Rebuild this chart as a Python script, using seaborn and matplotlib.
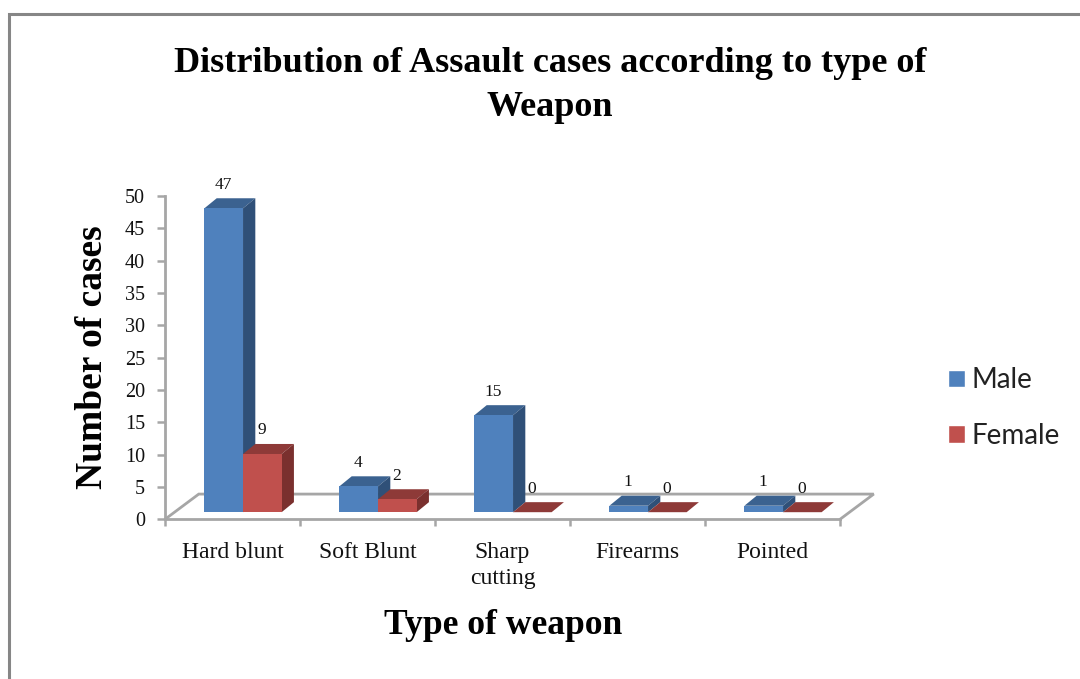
import matplotlib
matplotlib.use("Agg")
import matplotlib.pyplot as plt
from matplotlib.lines import Line2D
from matplotlib.patches import Patch, Polygon
import pandas as pd
import seaborn as sns

weapons = ["Hard blunt", "Soft Blunt", "Sharp\ncutting", "Firearms", "Pointed"]
male = [47, 4, 15, 1, 1]
female = [9, 2, 0, 0, 0]
y_ticks = [0, 5, 10, 15, 20, 25, 30, 35, 40, 45, 50]

front_colors = {"Male": "#4F81BD", "Female": "#C0504D"}
top_colors = {"Male": "#3B6290", "Female": "#8E3A38"}
side_colors = {"Male": "#2F5078", "Female": "#7A302E"}

W, H = 1080, 679

sns.set_style("white")
plt.rcParams["font.family"] = ["Liberation Serif", "DejaVu Serif"]

df = pd.DataFrame({
    "weapon": weapons * 2,
    "sex": ["Male"] * 5 + ["Female"] * 5,
    "cases": male + female,
})

fig = plt.figure(figsize=(W / 100, H / 100), dpi=100, facecolor="white")
ax = fig.add_axes([165 / W, 1 - 519.3 / H, 675 / W, 323.3 / H])
ax.patch.set_alpha(0)

sns.barplot(data=df, x="weapon", y="cases", hue="sex", order=weapons,
            hue_order=["Male", "Female"], palette=front_colors, width=0.572,
            saturation=1, linewidth=0, legend=False, ax=ax, zorder=5)

ax.set_xlim(-0.5, 4.5)
ax.set_ylim(0, 50)

# fake 3d: bars sit on the floor, with a top and a side face
shift_x = 0.078
lift_y = 1.1
depth_x = 0.091
depth_y = 1.55

for sex, container, layer in zip(["Male", "Female"], ax.containers, [3, 4]):
    for bar in container:
        bar.set_x(bar.get_x() + shift_x)
        bar.set_y(lift_y)
        x0 = bar.get_x()
        x1 = x0 + bar.get_width()
        y0 = lift_y
        y1 = lift_y + bar.get_height()
        ax.add_patch(Polygon([(x0, y1), (x1, y1), (x1 + depth_x, y1 + depth_y), (x0 + depth_x, y1 + depth_y)],
                             facecolor=top_colors[sex], linewidth=0, zorder=layer, clip_on=False))
        ax.add_patch(Polygon([(x1, y0), (x1, y1), (x1 + depth_x, y1 + depth_y), (x1 + depth_x, y0 + depth_y)],
                             facecolor=side_colors[sex], linewidth=0, zorder=layer, clip_on=False))
        ax.annotate(f"{int(bar.get_height())}", ((x0 + x1) / 2, y1), xytext=(-0.5, 17),
                    textcoords="offset points", ha="center", va="center",
                    fontsize=12.5, color="#111111", annotation_clip=False, zorder=6)

# floor of the 3d box
grey = "#A6A6A6"
floor_x = 0.25
floor_y = 3.9
ax.plot([-0.5, -0.5 + floor_x, 4.5 + floor_x, 4.5], [0, floor_y, floor_y, 0],
        color=grey, lw=2, clip_on=False, zorder=1, solid_joinstyle="miter")

sns.despine(ax=ax)
for side in ["left", "bottom"]:
    ax.spines[side].set_color(grey)
    ax.spines[side].set_linewidth(2)

ax.set_yticks(y_ticks)
ax.tick_params(axis="y", left=True, length=5.8, width=1.8, color=grey, pad=8.5,
               labelsize=14.5, labelcolor="#111111")
ax.set_xticks([i - 0.5 for i in range(6)], minor=True)
ax.tick_params(axis="x", which="minor", bottom=True, length=5, width=1.8, color=grey)
ax.tick_params(axis="x", which="major", bottom=False, pad=12.5, labelsize=17, labelcolor="#111111")
for label in ax.get_xticklabels():
    label.set_linespacing(1.32)
    label.set_verticalalignment("top")

ax.set_xlabel("")
ax.set_ylabel("")

fig.text(550 / W, 1 - 63 / H, "Distribution of Assault cases according to type of",
         ha="center", va="center", fontsize=26, fontweight="bold", color="black")
fig.text(550 / W, 1 - 107.5 / H, "Weapon", ha="center", va="center", fontsize=26,
         fontweight="bold", color="black")
fig.text(93 / W, 1 - 357 / H, "Number of cases", rotation=90, ha="center", va="center",
         fontsize=27, fontweight="bold", color="black")
fig.text(503 / W, 1 - 625 / H, "Type of weapon", ha="center", va="center",
         fontsize=25.6, fontweight="bold", color="black")

handles = [Patch(facecolor=front_colors[s], label=s) for s in ["Male", "Female"]]
fig.legend(handles=handles, loc="center left", bbox_to_anchor=(926 / W, 1 - 408 / H),
           frameon=False, prop={"family": "Lato", "size": 20}, labelspacing=1.07,
           handlelength=0.6, handleheight=0.6, handletextpad=0.24, borderpad=0.3,
           labelcolor="#222222")

# chart border, runs off the right and bottom of the image
border = "#868686"
fig.add_artist(Line2D([8.5 / W, 8.5 / W, 1], [0, 1 - 13.5 / H, 1 - 13.5 / H], color=border,
                      lw=2.2, solid_joinstyle="miter"))

fig.savefig("out.png", dpi=100, facecolor="white")
